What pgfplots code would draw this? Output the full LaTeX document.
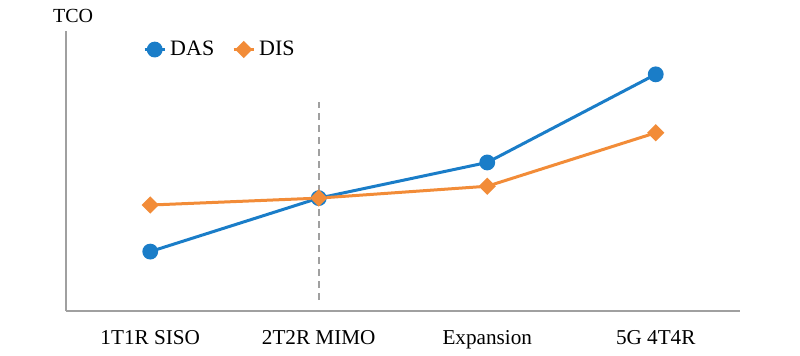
\documentclass[border=0pt]{standalone}
\usepackage{pgfplots}
\pgfplotsset{compat=1.18}
\usepackage{fontspec}
\setmainfont{Liberation Serif}
\definecolor{dasblue}{HTML}{1A7DC8}
\definecolor{disorange}{HTML}{F28C38}
\definecolor{axgray}{HTML}{A0A0A0}
\begin{document}
\fontsize{10.5}{12}\selectfont
\begin{tikzpicture}
\useasboundingbox (-33pt,-22.5pt) rectangle (367pt,155.5pt);
\begin{axis}[
  at={(0,0)}, anchor=south west,
  scale only axis, width=337pt, height=140.1pt,
  xmin=-0.5, xmax=3.5, ymin=0, ymax=283,
  axis lines*=left,
  axis line style={axgray, line width=1pt},
  xtick={0,1,2,3},
  xticklabels={1T1R SISO,2T2R MIMO,Expansion,5G 4T4R},
  ytick=\empty,
  major tick length=0pt,
  xticklabel style={yshift=-6pt, font=\fontsize{10.6}{12}\selectfont},
  legend style={at={(rel axis cs:0.114,0.933)}, anchor=west, draw=none, fill=none,
    inner sep=0pt, legend columns=-1, font=\fontsize{11}{13}\selectfont,
    /tikz/every even column/.append style={column sep=7pt}},
  legend image code/.code={
    \draw[mark repeat=2,mark phase=2] plot coordinates {(0pt,0pt) (5pt,0pt) (10pt,0pt)};},
  clip=false,
]
\addplot[axgray, line width=0.8pt, dash pattern=on 3.5pt off 2.5pt, forget plot] coordinates {(1,11) (1,211)};
\addplot[dasblue, line width=1.5pt, mark=*, mark size=3.2pt, mark options={solid}] coordinates {(0,60) (1,114) (2,150) (3,239)};
\addplot[disorange, line width=1.5pt, mark=square*, mark size=2.3pt, mark options={solid, rotate=45}] coordinates {(0,107) (1,114) (2,126) (3,180)};
\legend{DAS,DIS}
\node[font=\fontsize{10}{12}\selectfont] at (axis cs:-0.458,297.5) {TCO};
\end{axis}
\end{tikzpicture}
\end{document}
